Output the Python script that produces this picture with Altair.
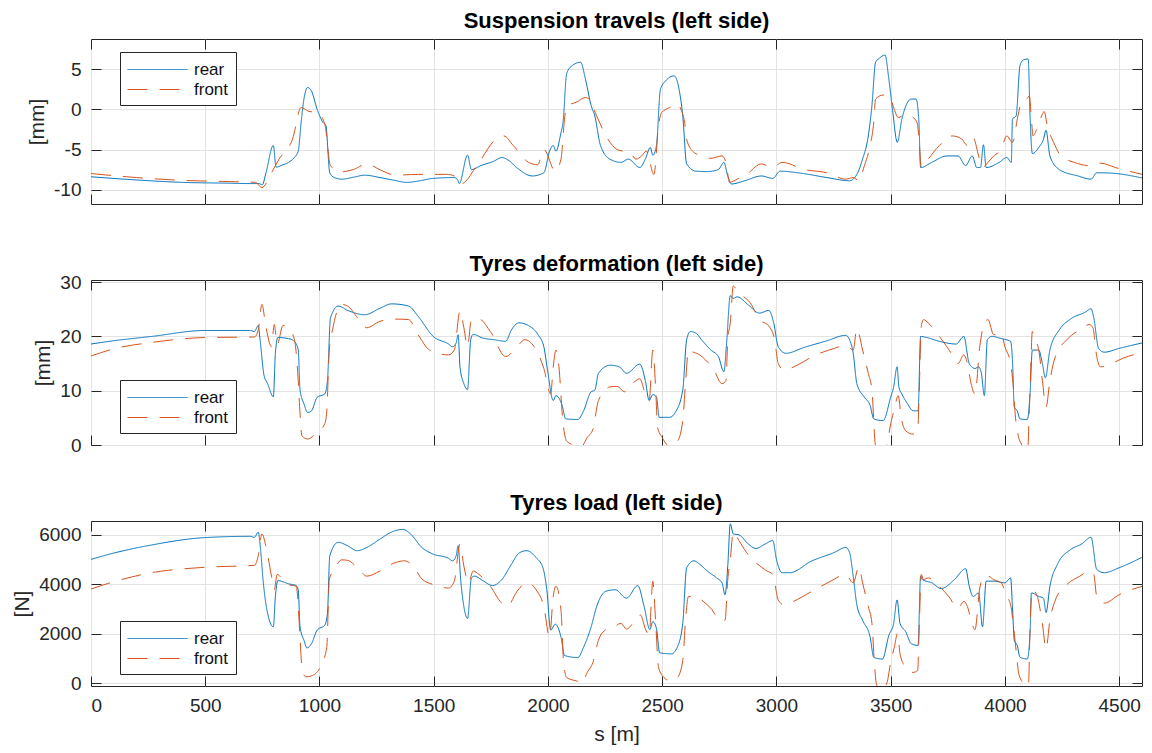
import altair as alt
import pandas as pd

# ---------------- data ----------------
susp_rear_s = [0, 200, 400, 600, 700, 735, 750, 765, 798, 810, 840, 865, 890, 907, 920, 932, 948, 965, 990, 1015, 1028, 1045, 1065, 1098, 1150, 1198, 1265, 1320, 1382, 1440, 1498, 1590, 1605, 1612, 1648, 1665, 1707, 1760, 1798, 1830, 1865, 1932, 1982, 2007, 2023, 2035, 2057, 2066, 2082, 2107, 2143, 2164, 2189, 2205, 2230, 2271, 2320, 2352, 2402, 2426, 2448, 2459, 2475, 2492, 2516, 2552, 2574, 2590, 2607, 2648, 2697, 2746, 2770, 2787, 2803, 2861, 2934, 2984, 3016, 3106, 3221, 3320, 3352, 3377, 3402, 3418, 3434, 3451, 3475, 3492, 3508, 3529, 3549, 3590, 3611, 3623, 3631, 3680, 3746, 3795, 3828, 3857, 3877, 3893, 3906, 3918, 3975, 4008, 4028, 4033, 4049, 4066, 4082, 4102, 4110, 4120, 4148, 4169, 4180, 4197, 4238, 4320, 4377, 4402, 4467, 4600]
susp_rear_v = [-8.4, -8.8, -9.1, -9.2, -9.25, -9.25, -9.4, -8.0, -4.5, -7.2, -6.9, -6.6, -6.0, -5.2, -1.5, 1.3, 2.75, 2.3, 0.0, -1.6, -2.0, -7.9, -8.5, -8.7, -8.45, -8.2, -8.5, -8.8, -9.1, -8.9, -8.6, -8.5, -8.8, -9.25, -5.7, -7.5, -7.0, -6.5, -6.0, -6.4, -7.3, -8.3, -7.9, -5.2, -4.5, -5.2, -2.9, -1.6, 4.5, 5.5, 5.9, 3.8, 0.5, -0.8, -4.5, -6.2, -6.6, -6.2, -7.25, -6.2, -4.75, -5.7, -4.5, 2.5, 3.6, 4.2, 2.5, -0.8, -6.8, -7.7, -7.75, -7.5, -6.6, -8.3, -9.3, -8.9, -8.3, -8.6, -7.7, -7.95, -8.5, -8.9, -8.1, -6.2, -3.3, 0.5, 5.9, 6.4, 6.8, 3.8, 0.0, -4.1, -1.2, 1.3, 1.3, -1.2, -7.25, -6.6, -5.8, -5.8, -7.0, -5.8, -7.25, -7.25, -4.4, -7.25, -6.6, -6.0, -6.6, -1.2, -0.8, 5.5, 6.2, 6.3, -0.8, -5.5, -4.75, -3.7, -2.6, -5.8, -7.5, -8.3, -8.7, -7.9, -7.95, -8.55]

susp_front_s = [0, 200, 400, 600, 720, 748, 790, 823, 882, 920, 950, 990, 1023, 1048, 1090, 1148, 1207, 1270, 1332, 1432, 1557, 1590, 1618, 1698, 1765, 1807, 1848, 1915, 1955, 1982, 2032, 2057, 2074, 2082, 2123, 2164, 2180, 2213, 2262, 2303, 2361, 2385, 2410, 2430, 2464, 2484, 2497, 2533, 2566, 2582, 2598, 2607, 2633, 2672, 2713, 2762, 2779, 2795, 2828, 2869, 2934, 2984, 3025, 3123, 3221, 3303, 3336, 3361, 3385, 3410, 3426, 3434, 3467, 3475, 3500, 3516, 3533, 3566, 3598, 3615, 3623, 3634, 3664, 3713, 3770, 3811, 3836, 3861, 3885, 3902, 3926, 3951, 3984, 4008, 4033, 4057, 4074, 4098, 4107, 4115, 4123, 4139, 4164, 4172, 4185, 4213, 4246, 4303, 4369, 4418, 4484, 4600]
susp_front_v = [-8.0, -8.5, -8.85, -9.0, -9.1, -9.75, -7.9, -6.2, -3.7, 0.25, -0.2, -0.4, -1.8, -7.0, -7.8, -7.5, -6.8, -7.6, -8.2, -8.1, -8.1, -8.3, -9.3, -6.6, -3.9, -3.3, -4.5, -6.6, -6.9, -5.0, -7.7, -6.2, -0.8, 0.4, 0.9, 1.5, 1.3, -0.8, -3.7, -5.0, -5.4, -6.2, -5.8, -5.2, -8.1, -2.0, -0.4, 0.25, 0.7, 0.0, -1.6, -3.7, -5.2, -5.8, -6.1, -5.8, -6.6, -9.1, -8.7, -8.1, -6.8, -7.25, -6.6, -7.5, -7.9, -8.7, -8.5, -8.9, -7.0, -4.5, -1.6, 1.3, 1.8, 1.8, 1.3, 0.0, -1.0, -0.6, -1.0, -1.6, -3.3, -7.25, -6.2, -4.5, -3.3, -3.7, -4.5, -3.5, -5.8, -7.25, -6.6, -5.8, -5.0, -3.3, -4.1, -0.8, 1.1, 1.4, 1.7, -0.8, -3.3, -2.5, -0.6, -0.25, -2.0, -4.1, -5.8, -6.6, -7.0, -6.7, -7.25, -8.1]

defo_rear_s = [0, 98, 265, 500, 698, 715, 732, 740, 757, 773, 798, 807, 818, 865, 890, 907, 915, 932, 948, 965, 990, 1023, 1035, 1048, 1082, 1123, 1198, 1265, 1315, 1390, 1432, 1498, 1565, 1582, 1598, 1607, 1615, 1632, 1648, 1662, 1673, 1715, 1765, 1815, 1840, 1873, 1915, 1957, 1982, 1998, 2023, 2035, 2062, 2078, 2131, 2156, 2189, 2205, 2221, 2271, 2312, 2344, 2402, 2426, 2443, 2459, 2475, 2487, 2533, 2557, 2590, 2607, 2623, 2648, 2672, 2713, 2746, 2770, 2782, 2798, 2811, 2828, 2877, 2926, 2967, 2988, 3008, 3041, 3123, 3221, 3303, 3320, 3336, 3352, 3385, 3410, 3426, 3467, 3500, 3513, 3528, 3536, 3549, 3574, 3598, 3620, 3631, 3648, 3713, 3787, 3820, 3844, 3869, 3885, 3897, 3910, 3923, 3943, 3984, 4025, 4033, 4041, 4054, 4066, 4098, 4110, 4120, 4148, 4164, 4177, 4197, 4238, 4287, 4353, 4377, 4389, 4410, 4435, 4500, 4600]
defo_rear_v = [18.6, 19.2, 20.0, 21.1, 21.1, 20.9, 22.0, 19.4, 12.9, 11.3, 8.9, 16.9, 19.8, 19.6, 19.1, 17.5, 10.1, 7.6, 6.0, 6.3, 8.8, 9.4, 11.9, 23.4, 25.6, 24.8, 24.0, 25.2, 26.0, 25.6, 23.7, 20.0, 18.6, 18.1, 18.8, 20.3, 14.4, 11.3, 10.2, 19.4, 20.4, 19.7, 19.4, 19.1, 21.2, 22.5, 22.0, 20.3, 18.1, 13.8, 8.2, 9.1, 7.3, 4.8, 4.7, 6.3, 9.8, 10.1, 13.2, 14.7, 14.4, 13.2, 14.9, 11.9, 8.2, 9.3, 8.8, 5.1, 5.1, 6.0, 10.1, 19.4, 20.9, 20.6, 19.4, 17.5, 16.3, 13.5, 18.8, 27.5, 27.0, 27.3, 25.8, 24.3, 24.8, 22.5, 18.1, 16.9, 18.0, 19.2, 20.2, 19.4, 16.9, 11.3, 8.8, 7.3, 4.8, 4.5, 8.8, 10.7, 14.4, 10.7, 9.4, 7.6, 6.3, 6.3, 20.0, 19.9, 19.1, 18.6, 20.0, 15.0, 14.1, 14.4, 13.2, 9.1, 19.4, 20.0, 19.6, 19.1, 15.7, 7.0, 6.3, 4.8, 4.7, 9.4, 17.5, 17.5, 15.0, 12.4, 17.5, 21.2, 23.2, 24.5, 25.1, 23.4, 17.8, 17.1, 17.8, 18.8]

defo_front_s = [0, 98, 265, 500, 715, 732, 748, 765, 790, 802, 815, 840, 865, 890, 907, 915, 923, 948, 982, 1023, 1032, 1043, 1057, 1098, 1123, 1173, 1207, 1265, 1332, 1390, 1432, 1482, 1565, 1590, 1615, 1632, 1648, 1665, 1698, 1748, 1815, 1865, 1898, 1940, 1982, 2012, 2023, 2035, 2048, 2065, 2082, 2115, 2148, 2172, 2197, 2221, 2271, 2303, 2336, 2377, 2402, 2426, 2443, 2459, 2471, 2480, 2500, 2525, 2566, 2590, 2602, 2615, 2631, 2664, 2689, 2723, 2762, 2779, 2787, 2798, 2811, 2828, 2852, 2885, 2926, 2967, 2992, 3008, 3033, 3090, 3172, 3254, 3303, 3336, 3352, 3377, 3402, 3418, 3426, 3431, 3443, 3467, 3484, 3500, 3516, 3533, 3546, 3566, 3598, 3618, 3625, 3634, 3644, 3664, 3713, 3746, 3779, 3795, 3820, 3836, 3852, 3869, 3890, 3910, 3926, 3951, 3984, 4000, 4025, 4038, 4045, 4057, 4074, 4098, 4110, 4120, 4126, 4148, 4164, 4180, 4197, 4221, 4271, 4336, 4369, 4385, 4402, 4418, 4467, 4517, 4600]
defo_front_v = [16.4, 17.7, 18.9, 19.8, 19.9, 21.2, 25.9, 21.9, 18.1, 22.2, 18.5, 22.0, 21.5, 19.5, 11.9, 5.7, 1.7, 1.1, 2.0, 3.9, 6.3, 17.5, 21.2, 25.9, 25.6, 23.1, 21.6, 22.8, 23.2, 23.1, 20.3, 17.5, 16.6, 17.5, 24.7, 21.6, 18.1, 23.1, 23.2, 20.9, 16.3, 18.1, 19.4, 18.1, 14.1, 9.4, 14.4, 17.5, 14.4, 4.5, 0.7, 0.0, -0.2, 1.4, 2.9, 8.2, 10.7, 10.8, 9.8, 11.6, 12.2, 9.4, 8.2, 17.5, 10.7, 3.2, 1.4, 0.0, 0.7, 4.5, 11.3, 17.5, 17.2, 16.6, 15.7, 14.1, 11.3, 11.9, 19.4, 22.5, 29.3, 28.4, 27.5, 26.2, 23.1, 21.9, 19.4, 15.0, 13.8, 14.7, 16.6, 17.8, 18.4, 17.5, 21.4, 17.5, 13.2, 10.1, 4.5, 0.7, -1.7, -3.0, 0.0, 3.9, 6.6, 9.1, 5.1, 2.6, 2.0, 2.6, 10.1, 21.9, 23.1, 22.5, 20.0, 18.1, 16.0, 15.0, 16.6, 15.0, 11.3, 9.4, 18.1, 22.5, 23.1, 20.3, 20.6, 18.1, 15.0, 10.1, 5.7, 2.0, 0.0, -1.7, 10.1, 20.9, 20.0, 17.5, 11.9, 7.0, 11.9, 16.3, 19.4, 21.4, 22.2, 21.6, 16.3, 14.4, 15.0, 16.0, 17.0]

load_rear_s = [0, 98, 265, 500, 698, 715, 732, 742, 753, 765, 798, 807, 818, 865, 898, 907, 915, 932, 945, 965, 990, 1023, 1035, 1045, 1082, 1123, 1165, 1207, 1265, 1315, 1365, 1398, 1448, 1498, 1565, 1582, 1598, 1607, 1618, 1632, 1648, 1665, 1678, 1715, 1757, 1798, 1840, 1873, 1907, 1948, 1978, 1995, 2012, 2032, 2057, 2073, 2131, 2156, 2189, 2213, 2254, 2295, 2344, 2393, 2421, 2446, 2459, 2475, 2489, 2541, 2566, 2590, 2607, 2639, 2664, 2697, 2738, 2762, 2775, 2787, 2798, 2811, 2836, 2877, 2910, 2951, 2984, 3000, 3025, 3057, 3156, 3254, 3303, 3320, 3336, 3352, 3377, 3410, 3426, 3464, 3492, 3513, 3528, 3541, 3566, 3590, 3620, 3631, 3639, 3680, 3721, 3779, 3828, 3844, 3861, 3885, 3902, 3918, 3951, 4000, 4025, 4033, 4041, 4054, 4066, 4098, 4110, 4116, 4148, 4169, 4180, 4197, 4230, 4287, 4336, 4377, 4402, 4435, 4500, 4600]
load_rear_v = [5010, 5260, 5590, 5890, 5940, 5900, 6110, 5420, 4190, 3240, 2280, 3510, 4150, 4020, 3950, 3780, 2280, 1740, 1430, 1600, 2150, 2350, 2830, 5150, 5700, 5560, 5360, 5490, 5830, 6110, 6220, 6040, 5490, 5220, 5050, 4950, 5150, 5560, 4190, 3100, 2620, 4260, 4330, 4150, 3950, 4190, 4810, 5260, 5360, 5080, 4670, 3780, 2150, 2390, 1870, 1120, 1040, 1460, 2280, 3100, 3720, 3780, 3440, 3950, 3100, 2170, 2490, 2210, 1230, 1190, 1460, 2420, 4670, 4950, 4810, 4540, 4260, 4060, 3580, 4740, 6450, 6040, 6000, 5630, 5450, 5630, 5770, 5010, 4470, 4470, 4950, 5290, 5490, 5290, 4330, 3170, 2550, 1870, 1050, 980, 1940, 2420, 3370, 2420, 2080, 1600, 1530, 4330, 4190, 4060, 3830, 4190, 4630, 3920, 3510, 3650, 2280, 4130, 4130, 4060, 4260, 3100, 1740, 1530, 1050, 980, 2010, 3650, 3510, 3440, 2860, 3920, 4810, 5400, 5630, 5900, 4600, 4470, 4670, 5090]

load_front_s = [0, 98, 265, 500, 715, 732, 748, 765, 790, 802, 815, 840, 865, 898, 915, 923, 940, 965, 1003, 1032, 1043, 1065, 1098, 1123, 1173, 1207, 1265, 1332, 1373, 1415, 1448, 1498, 1565, 1590, 1615, 1632, 1652, 1673, 1698, 1748, 1798, 1823, 1865, 1907, 1948, 1982, 2007, 2023, 2035, 2057, 2068, 2082, 2132, 2148, 2172, 2197, 2221, 2254, 2287, 2320, 2344, 2377, 2405, 2426, 2443, 2459, 2471, 2484, 2508, 2533, 2566, 2590, 2602, 2615, 2648, 2680, 2713, 2754, 2775, 2787, 2798, 2811, 2836, 2869, 2910, 2959, 2984, 3008, 3033, 3074, 3156, 3238, 3303, 3336, 3361, 3377, 3402, 3418, 3429, 3438, 3459, 3484, 3500, 3516, 3530, 3541, 3566, 3598, 3618, 3625, 3634, 3644, 3664, 3713, 3754, 3795, 3820, 3836, 3852, 3869, 3890, 3910, 3926, 3951, 3984, 4008, 4025, 4038, 4049, 4061, 4082, 4103, 4110, 4120, 4139, 4164, 4180, 4197, 4221, 4271, 4328, 4369, 4389, 4402, 4435, 4500, 4600]
load_front_v = [3810, 4100, 4470, 4690, 4770, 5150, 6040, 5560, 4330, 3780, 4400, 4190, 3990, 3920, 1870, 640, 260, 300, 640, 1460, 4190, 4600, 4990, 4970, 4600, 4330, 4540, 4880, 4950, 4670, 4220, 3990, 3850, 4130, 5630, 4740, 4060, 4540, 4400, 3920, 3240, 3130, 3720, 4080, 3780, 3100, 1870, 3510, 3920, 2960, 920, 230, 70, 0, 440, 850, 1740, 2170, 2280, 2420, 2190, 2490, 2760, 2210, 1940, 4130, 2550, 640, 230, 100, 230, 920, 2550, 3510, 3510, 3310, 3030, 2550, 2550, 4190, 5010, 6110, 5770, 5290, 4880, 4540, 4400, 3370, 3170, 3310, 3720, 4130, 4400, 4060, 4710, 4060, 3100, 2420, 780, -40, -310, 30, 850, 1460, 2010, 1190, 640, 440, 510, 2280, 4400, 4190, 4260, 3920, 3510, 3030, 3310, 3100, 2550, 2170, 3850, 4330, 4330, 4190, 4060, 3510, 3170, 2280, 1330, 370, 0, -110, 2280, 3780, 3580, 2420, 1390, 2550, 3370, 3990, 4330, 4540, 4400, 3510, 3240, 3580, 3920]

series_names = ["rear", "front"]
x_tick_values = [0, 500, 1000, 1500, 2000, 2500, 3000, 3500, 4000, 4500]
susp_ticks = [-10, -5, 0, 5]
defo_ticks = [0, 10, 20, 30]
load_ticks = [0, 2000, 4000, 6000]

# ---------------- styling ----------------
FONT = "Liberation Sans"
BLUE = "#0072BD"
ORANGE = "#D95319"
AXC = "#262626"
W = 1051
H = 165
LAB = "'' + datum.value"


def frame(rs, rv, fs, fv):
    return pd.DataFrame({
        "s": list(rs) + list(fs),
        "v": list(rv) + list(fv),
        "series": [series_names[0]] * len(rs) + [series_names[1]] * len(fs),
    })


def tick_axis(orient, offset, vals):
    return alt.Axis(orient=orient, offset=offset, values=vals, labels=False,
                    grid=False, domain=False, ticks=True, tickSize=10,
                    tickColor=AXC, tickWidth=1)


def panel(df, title, title_offset, ytitle, ydomain, yticks, legend_top, show_x):
    legend_y = 13 if legend_top else H - 13 - 52
    xs = alt.Scale(domain=[0, 4600], nice=False, zero=False)
    ys = alt.Scale(domain=ydomain, nice=False, zero=False)
    leg = alt.Legend(orient="none", legendX=29, legendY=legend_y, title=None,
                     direction="vertical", symbolType="M-3,0H3", symbolSize=400,
                     symbolStrokeWidth=1, labelFontSize=17, labelFont=FONT,
                     labelColor="#111111", padding=7, strokeColor=AXC,
                     fillColor="white", symbolOffset=20, labelOffset=26,
                     rowPadding=1, cornerRadius=0, labelLimit=200)
    color = alt.Color("series:N", scale=alt.Scale(domain=series_names, range=[BLUE, ORANGE]), legend=leg)
    dash = alt.StrokeDash("series:N", scale=alt.Scale(domain=series_names, range=[[1, 0], [20, 12]]), legend=leg)

    xaxis = alt.Axis(orient="bottom", values=x_tick_values, grid=True, ticks=False,
                     domain=False, labels=show_x, labelExpr=LAB, labelPadding=10,
                     titlePadding=8)
    yaxis = alt.Axis(orient="left", values=yticks, grid=True, ticks=False,
                     domain=False, labelExpr=LAB, labelPadding=10, titlePadding=6)
    if show_x:
        xenc = alt.X("s:Q", scale=xs, axis=xaxis, title="s [m]")
    else:
        xenc = alt.X("s:Q", scale=xs, axis=xaxis, title=None)

    base = alt.Chart(df)
    main = base.mark_line(clip=True, strokeWidth=1, interpolate="monotone").encode(
        x=xenc,
        y=alt.Y("v:Q", scale=ys, axis=yaxis, title=ytitle),
        color=color,
        strokeDash=dash,
    )
    t1 = base.mark_line(strokeOpacity=0, clip=True).encode(
        x=alt.X("s:Q", scale=xs, axis=tick_axis("top", -H, x_tick_values), title=None),
        y=alt.Y("v:Q", scale=ys, axis=tick_axis("right", -W, yticks), title=None),
        detail="series:N",
    )
    t2 = base.mark_line(strokeOpacity=0, clip=True).encode(
        x=alt.X("s:Q", scale=xs, axis=tick_axis("bottom", -H, x_tick_values), title=None),
        y=alt.Y("v:Q", scale=ys, axis=tick_axis("left", -W, yticks), title=None),
        detail="series:N",
    )
    return alt.layer(main, t1, t2).resolve_axis(x="independent", y="independent").properties(
        width=W, height=H, title=alt.Title(title, offset=title_offset)
    )


p1 = panel(frame(susp_rear_s, susp_rear_v, susp_front_s, susp_front_v),
           "Suspension travels (left side)", 6, "[mm]", [-11.8, 8.8], susp_ticks, True, False)
p2 = panel(frame(defo_rear_s, defo_rear_v, defo_front_s, defo_front_v),
           "Tyres deformation (left side)", -3, "[mm]", [0, 30.4], defo_ticks, False, False)
p3 = panel(frame(load_rear_s, load_rear_v, load_front_s, load_front_v),
           "Tyres load (left side)", 6, "[N]", [-110, 6560], load_ticks, False, True)

chart = alt.vconcat(p1, p2, p3, spacing=76, bounds="flush").resolve_scale(
    x="independent", y="independent", color="independent", strokeDash="independent"
).resolve_legend(color="independent", strokeDash="independent").properties(
    padding={"left": 11, "top": 9, "right": 9, "bottom": 6}
).configure(
    font=FONT, background="white"
).configure_view(
    stroke=AXC, strokeWidth=1
).configure_axis(
    labelFont=FONT, titleFont=FONT, labelFontSize=19, titleFontSize=21,
    titleFontWeight="normal", labelColor=AXC, titleColor=AXC,
    gridColor="#E3E3E3", gridWidth=1,
).configure_title(
    font=FONT, fontSize=22, fontWeight="bold", color="#000000", anchor="middle"
)

chart.save("out.html", embed_options={"renderer": "svg", "actions": False})
